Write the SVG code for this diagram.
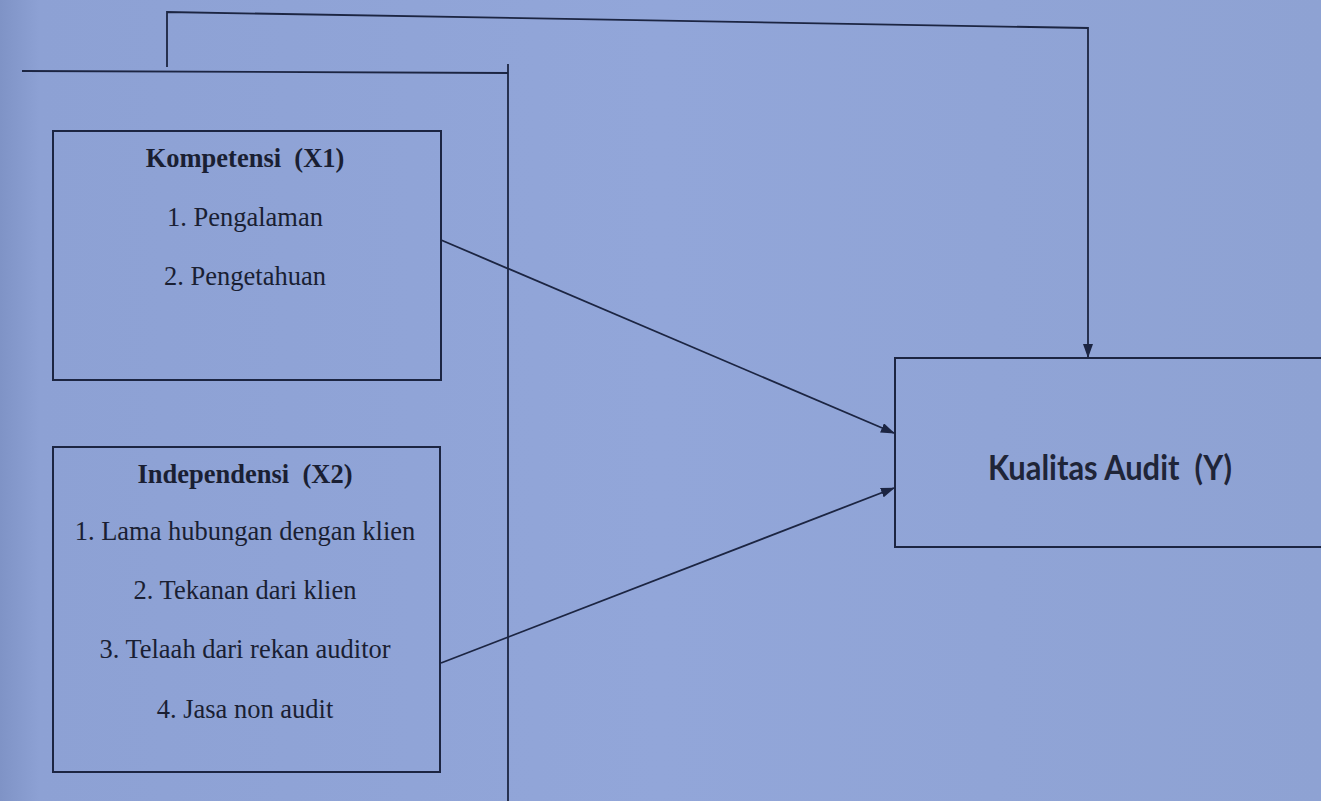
<svg xmlns="http://www.w3.org/2000/svg" width="1321" height="801" viewBox="0 0 1321 801">
<defs>
<linearGradient id="bg" x1="0" y1="0" x2="1" y2="0">
<stop offset="0" stop-color="#7f93c6"/>
<stop offset="0.03" stop-color="#8da1d4"/>
<stop offset="0.5" stop-color="#92a6d9"/>
<stop offset="1" stop-color="#8ea2d3"/>
</linearGradient>
<marker id="ah" markerWidth="14" markerHeight="10" refX="13" refY="5" orient="auto" markerUnits="userSpaceOnUse">
<path d="M0,0 L14,5 L0,10 z" fill="#1c2542"/>
</marker>
<style>
.ln{fill:none;stroke:#1c2542;stroke-width:1.8}
.bx{fill:none;stroke:#1c2542;stroke-width:2}
.t{font-family:"Liberation Serif","Times New Roman",serif;font-size:26.5px;fill:#1a1f33;text-anchor:middle}
.tb{font-weight:bold}
.y{font-family:Lato,"Open Sans",sans-serif;font-weight:bold;font-size:35px;fill:#1f2538}
</style>
</defs>
<rect x="0" y="0" width="1321" height="801" fill="url(#bg)"/>
<g id="connectors">
<polyline class="ln" points="167,67 167,12 1088,28 1088,357" marker-end="url(#ah)"/>
<polyline class="ln" points="22,71 508,73"/>
<line class="ln" x1="508" y1="64" x2="508" y2="801"/>
<line class="ln" x1="441" y1="240" x2="894" y2="433" marker-end="url(#ah)"/>
<line class="ln" x1="441" y1="663" x2="894" y2="488" marker-end="url(#ah)"/>
</g>
<g id="kompetensi">
<rect class="bx" x="53" y="131" width="388" height="249"/>
<text class="t tb" x="245" y="167" xml:space="preserve">Kompetensi  (X1)</text>
<text class="t" x="245" y="226">1. Pengalaman</text>
<text class="t" x="245" y="285">2. Pengetahuan</text>
</g>
<g id="independensi">
<rect class="bx" x="53" y="447" width="387" height="325"/>
<text class="t tb" x="245" y="483" xml:space="preserve">Independensi  (X2)</text>
<text class="t" x="245" y="540">1. Lama hubungan dengan klien</text>
<text class="t" x="245" y="599">2. Tekanan dari klien</text>
<text class="t" x="245" y="658">3. Telaah dari rekan auditor</text>
<text class="t" x="245" y="718">4. Jasa non audit</text>
</g>
<g id="kualitas">
<polyline class="bx" points="1321,358 895,358 895,547 1321,547"/>
<text class="y" x="988" y="480" textLength="244" lengthAdjust="spacingAndGlyphs" xml:space="preserve">Kualitas Audit  (Y)</text>
</g>
</svg>
